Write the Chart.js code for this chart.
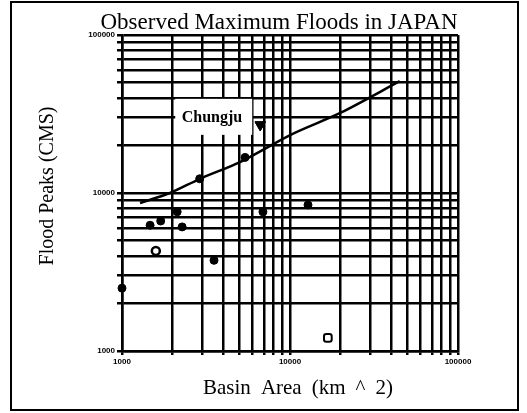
<!DOCTYPE html>
<html>
<head>
<meta charset="utf-8">
<script src="https://cdn.jsdelivr.net/npm/chart.js@4.4.1/dist/chart.umd.min.js"></script>
<style>
  html, body { margin: 0; padding: 0; background: #fff; }
  #wrap { width: 527px; height: 413px; position: relative; }
</style>
</head>
<body>
<div id="wrap"><canvas id="floodChart" width="527" height="413"></canvas></div>
<script>
// Envelope curve (km^2, CMS)
const envelopeArea = [1280, 1930, 2910, 5040, 10300, 19900, 45000];
const envelopeFlow = [8650, 10000, 12300, 15700, 23600, 32100, 51000];

// Observed floods
const floodArea = [1000, 1470, 1700, 2130, 2280, 2900, 3530, 5400, 6900, 12800];
const floodFlow = [2500, 6250, 6650, 7600, 6100, 12300, 3750, 16800, 7600, 8400];

const ringArea = [1590];
const ringFlow = [4300];
const boxArea = [16800];
const boxFlow = [1210];

const chungjuArea = [6650];
const chungjuFlow = [27000];
const chungjuLabel = "Chungju";

const tickLabels = [1000, 10000, 100000];

const chartTitle = "Observed Maximum Floods in JAPAN";
const xTitle = "Basin Area (km ^ 2)";
const yTitle = "Flood Peaks (CMS)";

function toPoints(xs, ys) {
  return xs.map((x, i) => ({ x: x, y: ys[i] }));
}

// grid at 1..9 x 10^n
function logGrid(min, max) {
  const vals = [];
  for (let e = min; e < max; e *= 10) {
    for (let m = 1; m < 10; m++) vals.push(m * e);
  }
  vals.push(max);
  return vals;
}

function fitText(ctx, text, width) {
  ctx.wordSpacing = "0px";
  const w = ctx.measureText(text).width;
  const gaps = text.split(" ").length - 1;
  if (gaps > 0 && w < width) ctx.wordSpacing = ((width - w) / gaps) + "px";
}

const textPlugin = {
  id: "textPlugin",
  afterDraw(chart) {
    const ctx = chart.ctx;
    const xs = chart.scales.x;
    const ys = chart.scales.y;
    ctx.save();
    ctx.fillStyle = "#000";

    // Chungju label
    const px = xs.getPixelForValue(chungjuArea[0]);
    const py = ys.getPixelForValue(chungjuFlow[0]);
    ctx.fillStyle = "#fff";
    ctx.fillRect(px - 85, py - 26, 77, 36);
    ctx.fillStyle = "#000";
    ctx.font = "bold 16px 'Liberation Serif'";
    ctx.textAlign = "right";
    ctx.textBaseline = "alphabetic";
    ctx.fillText(chungjuLabel, px - 18, py - 3);

    // title
    ctx.textAlign = "center";
    ctx.font = "23px 'Liberation Serif'";
    fitText(ctx, chartTitle, 357);
    ctx.fillText(chartTitle, 279, 29);

    ctx.font = "21px 'Liberation Serif'";
    fitText(ctx, xTitle, 190);
    ctx.fillText(xTitle, 298, 394);

    ctx.translate(53, 186);
    ctx.rotate(-Math.PI / 2);
    ctx.font = "20px 'Liberation Serif'";
    fitText(ctx, yTitle, 155);
    ctx.fillText(yTitle, 0, 0);
    ctx.restore();

    // frame
    ctx.save();
    ctx.strokeStyle = "#000";
    ctx.lineWidth = 2;
    ctx.strokeRect(11, 2, 507, 408);
    ctx.restore();
  }
};

// redraw the chungju marker above the white label box
const chungjuFront = {
  id: "chungjuFront",
  afterDraw(chart) {
    const meta = chart.getDatasetMeta(4);
    meta.data.forEach(el => el.draw(chart.ctx));
  }
};

const tickFont = { family: "'Liberation Sans'", size: 8, weight: "bold" };

new Chart(document.getElementById("floodChart"), {
  type: "scatter",
  data: {
    datasets: [
      {
        type: "line",
        data: toPoints(envelopeArea, envelopeFlow),
        borderColor: "#000",
        borderWidth: 2.5,
        pointRadius: 0,
        tension: 0.3,
        fill: false,
      },
      {
        data: toPoints(floodArea, floodFlow),
        backgroundColor: "#000",
        borderColor: "#000",
        pointRadius: 4,
        clip: false,
      },
      {
        data: toPoints(ringArea, ringFlow),
        backgroundColor: "#fff",
        borderColor: "#000",
        borderWidth: 2.5,
        pointRadius: 4,
      },
      {
        data: toPoints(boxArea, boxFlow),
        pointStyle: "rectRounded",
        backgroundColor: "#fff",
        borderColor: "#000",
        borderWidth: 2,
        pointRadius: 4.5,
      },
      {
        data: toPoints(chungjuArea, chungjuFlow),
        pointStyle: "triangle",
        rotation: 180,
        backgroundColor: "#000",
        borderColor: "#000",
        pointRadius: 6,
      },
    ],
  },
  options: {
    responsive: false,
    animation: false,
    layout: { padding: { left: 0, right: 69, top: 35, bottom: 0 } },
    plugins: {
      legend: { display: false },
      tooltip: { enabled: false },
    },
    scales: {
      x: {
        type: "logarithmic",
        min: 1000,
        max: 100000,
        afterFit: (s) => { s.height = 62; },
        afterBuildTicks: (s) => { s.ticks = logGrid(1000, 100000).map(v => ({ value: v })); },
        grid: { color: "#000", lineWidth: 2.5, tickLength: 4, tickColor: "#000" },
        border: { color: "#000", width: 2.5 },
        ticks: {
          autoSkip: false,
          maxRotation: 0,
          padding: 2,
          color: "#000",
          font: tickFont,
          callback: (v) => (tickLabels.includes(v) ? String(v) : ""),
        },
      },
      y: {
        type: "logarithmic",
        min: 1000,
        max: 100000,
        afterFit: (s) => { s.width = 122; },
        afterBuildTicks: (s) => { s.ticks = logGrid(1000, 100000).map(v => ({ value: v })); },
        grid: { color: "#000", lineWidth: 2.5, tickLength: 5, tickColor: "#000" },
        border: { color: "#000", width: 2.5 },
        ticks: {
          autoSkip: false,
          padding: 2,
          color: "#000",
          font: tickFont,
          callback: (v) => (tickLabels.includes(v) ? String(v) : ""),
        },
      },
    },
  },
  plugins: [textPlugin, chungjuFront],
});
</script>
</body>
</html>
